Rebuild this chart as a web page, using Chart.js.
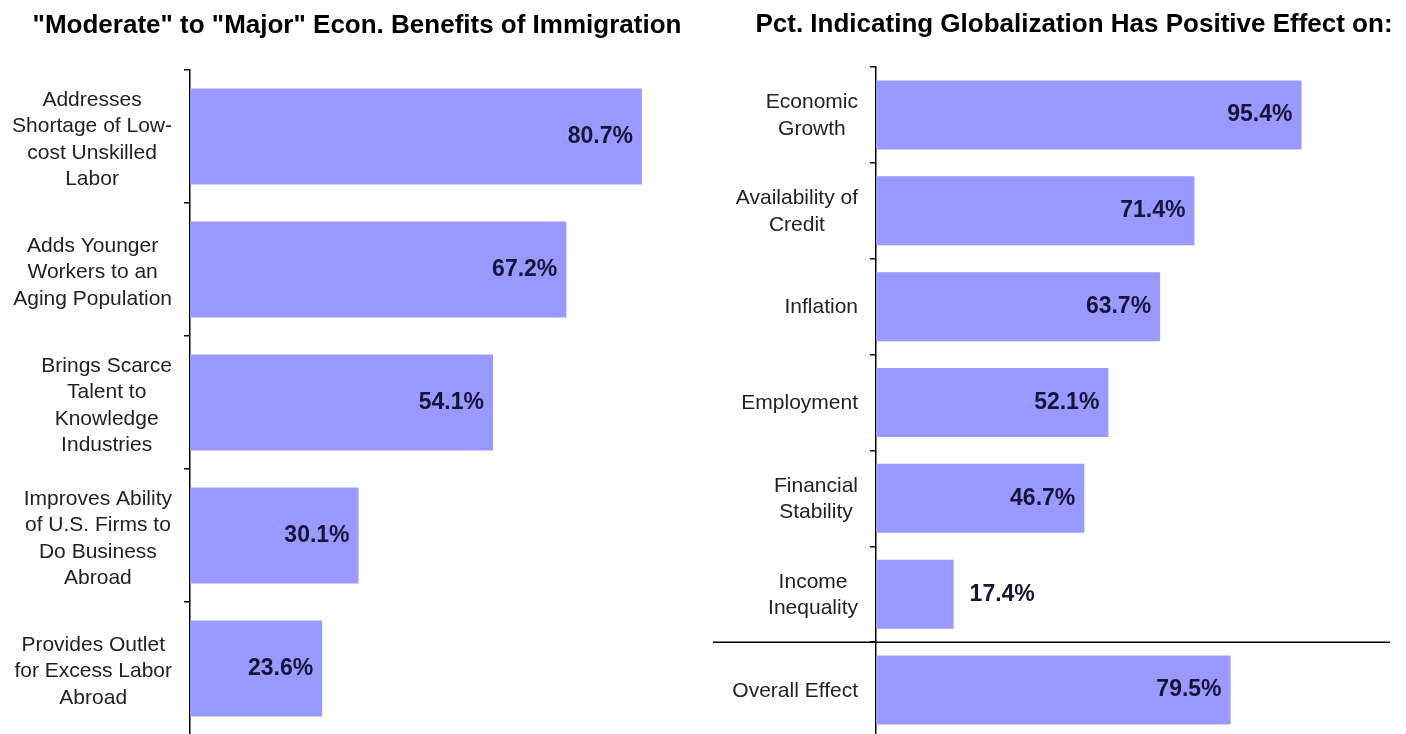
<!DOCTYPE html>
<html>
<head>
<meta charset="utf-8">
<script src="https://cdn.jsdelivr.net/npm/chart.js@4"></script>
<style>
  html, body { margin: 0; padding: 0; background: #fff; overflow: hidden; }
  #left { position: absolute; left: 0; top: 0; }
  #right { position: absolute; left: 703px; top: 0; }
</style>
</head>
<body>
<canvas id="left" width="712" height="735"></canvas>
<canvas id="right" width="703" height="738"></canvas>
<script>
var leftTitle = '"Moderate" to "Major" Econ. Benefits of Immigration';
var leftLabels = [
    ["Addresses", "Shortage of Low-", "cost Unskilled", "Labor"],
    ["Adds Younger", "Workers to an", "Aging Population"],
    ["Brings Scarce", "Talent to", "Knowledge", "Industries"],
    ["Improves Ability", "of U.S. Firms to", "Do Business", "Abroad"],
    ["Provides Outlet", "for Excess Labor", "Abroad"]
];
var leftValues = [80.7, 67.2, 54.1, 30.1, 23.6];

var rightTitle = "Pct. Indicating Globalization Has Positive Effect on:";
var rightLabels = [
    ["Economic", "Growth"],
    ["Availability of", "Credit"],
    ["Inflation"],
    ["Employment"],
    ["Financial", "Stability"],
    ["Income", "Inequality"],
    ["Overall Effect"]
];
var rightValues = [95.4, 71.4, 63.7, 52.1, 46.7, 17.4, 79.5];

var FONT = '"Liberation Sans", Arial, sans-serif';

// the title is centred over the picture, not over the chart area, so draw it here
var headTitle = {
    id: 'headTitle',
    afterDraw: function (chart, args, opts) {
        var ctx = chart.ctx;
        ctx.save();
        ctx.font = 'bold 26px ' + FONT;
        ctx.fillStyle = '#000';
        ctx.textAlign = 'center';
        ctx.textBaseline = 'alphabetic';
        ctx.fillText(opts.text, opts.x, opts.y);
        ctx.restore();
    }
};

// category labels: block right-aligned next to the axis, lines centred inside the block
var catLabels = {
    id: 'catLabels',
    afterDraw: function (chart, args, opts) {
        var ctx = chart.ctx;
        var scale = chart.scales.y;
        var labels = chart.data.labels;
        ctx.save();
        ctx.font = '21px ' + FONT;
        ctx.fillStyle = '#222';
        ctx.textAlign = 'center';
        ctx.textBaseline = 'middle';
        var lh = 26.5;
        for (var i = 0; i < labels.length; i++) {
            var lines = labels[i];
            var widest = 0;
            lines.forEach(function (l) { widest = Math.max(widest, ctx.measureText(l).width); });
            var cx = chart.chartArea.left - 18 - widest / 2;
            var cy = scale.getPixelForTick(i) + (opts.shift || 0);
            var y0 = cy - (lines.length - 1) * lh / 2;
            lines.forEach(function (l, j) { ctx.fillText(l, cx, y0 + j * lh); });
        }
        ctx.restore();
    }
};

var valueLabels = {
    id: 'valueLabels',
    afterDatasetsDraw: function (chart) {
        var ctx = chart.ctx;
        var meta = chart.getDatasetMeta(0);
        var values = chart.data.datasets[0].data;
        ctx.save();
        ctx.font = 'bold 23px ' + FONT;
        ctx.fillStyle = '#15153a';
        ctx.textBaseline = 'middle';
        meta.data.forEach(function (bar, i) {
            var text = values[i].toFixed(1) + '%';
            var w = ctx.measureText(text).width;
            if (bar.x - bar.base > w + 24) {
                ctx.textAlign = 'right';
                ctx.fillText(text, bar.x - 9, bar.y);
            } else {
                ctx.textAlign = 'left';
                ctx.fillText(text, bar.x + 16, bar.y);
            }
        });
        ctx.restore();
    }
};

// line that separates "Overall Effect" from the other categories
var separator = {
    id: 'separator',
    afterDraw: function (chart, args, opts) {
        if (!opts.show) return;
        var scale = chart.scales.y;
        var n = chart.data.labels.length;
        var y = (scale.getPixelForTick(n - 2) + scale.getPixelForTick(n - 1)) / 2;
        var ctx = chart.ctx;
        ctx.save();
        ctx.strokeStyle = '#000';
        ctx.lineWidth = 1.5;
        ctx.beginPath();
        ctx.moveTo(opts.from, y);
        ctx.lineTo(opts.to, y);
        ctx.stroke();
        ctx.restore();
    }
};

function makeChart(id, title, labels, values, cfg) {
    return new Chart(document.getElementById(id), {
        type: 'bar',
        data: {
            labels: labels,
            datasets: [{
                data: values,
                backgroundColor: '#9999ff',
                borderWidth: 0,
                barPercentage: 0.72,
                categoryPercentage: 1
            }]
        },
        options: {
            indexAxis: 'y',
            responsive: false,
            animation: false,
            devicePixelRatio: 1,
            layout: { padding: cfg.padding },
            scales: {
                x: { display: false, min: 0, max: cfg.max },
                y: {
                    afterFit: function (scale) { scale.width = cfg.axisWidth; },
                    ticks: { display: false },
                    grid: {
                        drawOnChartArea: false,
                        drawTicks: true,
                        tickLength: 6,
                        color: '#000',
                        lineWidth: 1.5
                    },
                    border: { display: true, color: '#000', width: 1.5 }
                }
            },
            plugins: {
                legend: { display: false },
                tooltip: { enabled: false },
                title: { display: false },
                headTitle: { text: title, x: cfg.titleX, y: cfg.titleY },
                catLabels: { shift: cfg.labelShift },
                separator: cfg.separator
            }
        },
        plugins: [headTitle, catLabels, valueLabels, separator]
    });
}

makeChart('left', leftTitle, leftLabels, leftValues, {
    padding: { left: 18, right: 18, top: 70, bottom: 0 },
    axisWidth: 172,
    max: 90,
    titleX: 357, titleY: 33,
    labelShift: 3,
    separator: { show: false }
});

makeChart('right', rightTitle, rightLabels, rightValues, {
    padding: { left: 122, right: 84, top: 67, bottom: 0 },
    axisWidth: 51,
    max: 100,
    titleX: 371, titleY: 32,
    labelShift: 1,
    separator: { show: true, from: 10, to: 687 }
});
</script>
</body>
</html>
